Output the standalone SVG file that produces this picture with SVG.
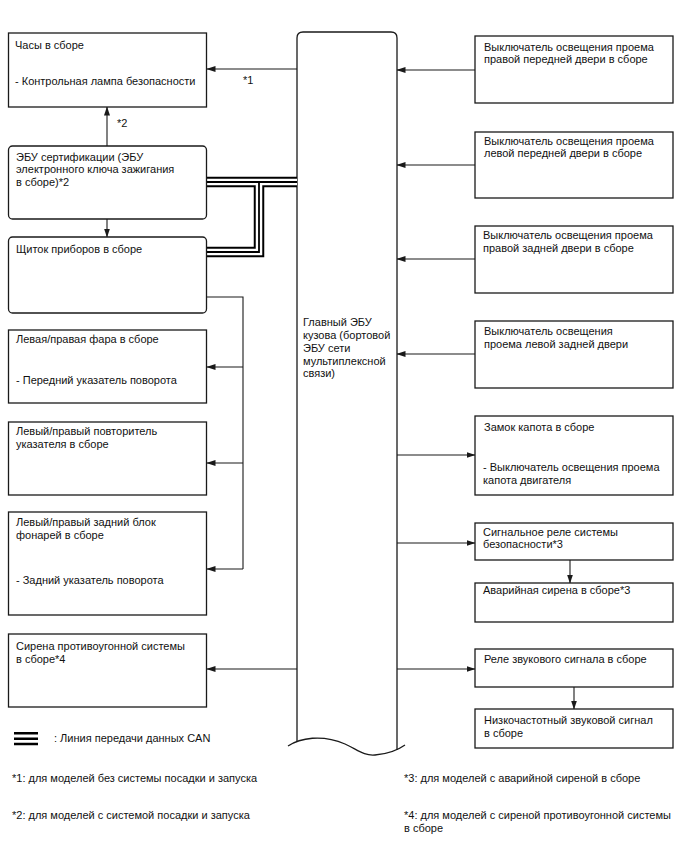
<svg xmlns="http://www.w3.org/2000/svg" width="688" height="852" viewBox="0 0 688 852">
<defs>
<style>
.b{fill:#fff;stroke:#1a1a1a;stroke-width:1.3}
.t{font-family:"Liberation Sans",Arial,sans-serif;font-size:11px;fill:#111}
.c{fill:none;stroke:#1a1a1a;stroke-width:1.1}
.a{fill:none;stroke:#1a1a1a;stroke-width:1.1;marker-end:url(#ah)}
.can1{fill:none;stroke:#000;stroke-width:10.5}
.can2{fill:none;stroke:#fff;stroke-width:6.5}
.can3{fill:none;stroke:#000;stroke-width:1.8}
</style>
<marker id="ah" markerUnits="userSpaceOnUse" markerWidth="9" markerHeight="6" refX="8.5" refY="3" orient="auto">
<path d="M0,0 L9,3 L0,6 z" fill="#1a1a1a"/>
</marker>
</defs>
<rect width="688" height="852" fill="#fff"/>

<g id="main-ecu">
<path class="b" d="M297,741 V38 Q297,32 303,32 H391 Q397,32 397,38 V750" fill="#fff"/>
<path class="c" d="M288,746 C300,738 322,734 345,744 C358,750 364,756 375,755 C388,754 398,750 405,745" style="stroke-width:1.3"/>
<text class="t" x="303" y="326">Главный ЭБУ</text>
<text class="t" x="303" y="339">кузова (бортовой</text>
<text class="t" x="303" y="351.5">ЭБУ сети</text>
<text class="t" x="303" y="364.5">мультиплексной</text>
<text class="t" x="303" y="377">связи)</text>
</g>

<g id="connectors">
<path class="can1" d="M207,182 H297 M259,182 V252 H207"/>
<path class="can2" d="M207,182 H297 M259,182 V252 H207"/>
<path class="can3" d="M207,182 H297 M259,182 V252 H207"/>
<path class="a" d="M297,69 H207"/>
<path class="a" d="M107,146 V107"/>
<path class="a" d="M107,219 V237"/>
<path class="c" d="M207,297 H243 V569"/>
<path class="a" d="M243,367 H207"/>
<path class="a" d="M243,463 H207"/>
<path class="a" d="M243,569 H207"/>
<path class="a" d="M297,669 H207"/>
<path class="a" d="M475,70 H397"/>
<path class="a" d="M475,165 H397"/>
<path class="a" d="M475,259 H397"/>
<path class="a" d="M475,354 H397"/>
<path class="a" d="M397,455 H475"/>
<path class="a" d="M397,543 H475"/>
<path class="a" d="M570,560 V583"/>
<path class="a" d="M397,669 H475"/>
<path class="a" d="M574,687 V709"/>
<text class="t" x="243" y="84">*1</text>
<text class="t" x="117" y="127">*2</text>
</g>

<g id="clock">
<rect class="b" x="8.5" y="33" width="198" height="74"/>
<text class="t" x="15" y="48.5">Часы в сборе</text>
<text class="t" x="15" y="85">- Контрольная лампа безопасности</text>
</g>

<g id="cert-ecu">
<rect class="b" x="8.5" y="146" width="198" height="73" rx="4"/>
<text class="t" x="16" y="160.5">ЭБУ сертификации (ЭБУ</text>
<text class="t" x="16" y="173.2">электронного ключа зажигания</text>
<text class="t" x="16" y="186">в сборе)*2</text>
</g>

<g id="meter">
<rect class="b" x="8.5" y="237" width="198" height="76" rx="4"/>
<text class="t" x="16" y="253">Щиток приборов в сборе</text>
</g>

<g id="headlamp">
<rect class="b" x="8.5" y="330" width="198" height="73"/>
<text class="t" x="16" y="343">Левая/правая фара в сборе</text>
<text class="t" x="16" y="384">- Передний указатель поворота</text>
</g>

<g id="side-repeater">
<rect class="b" x="8.5" y="422" width="198" height="73"/>
<text class="t" x="16" y="434.7">Левый/правый повторитель</text>
<text class="t" x="16" y="447.5">указателя в сборе</text>
</g>

<g id="rear-lamp">
<rect class="b" x="8.5" y="512" width="198" height="103"/>
<text class="t" x="16" y="526.3">Левый/правый задний блок</text>
<text class="t" x="16" y="539">фонарей в сборе</text>
<text class="t" x="16" y="584">- Задний указатель поворота</text>
</g>

<g id="theft-siren">
<rect class="b" x="8.5" y="634" width="198" height="73"/>
<text class="t" x="16" y="649.7">Сирена противоугонной системы</text>
<text class="t" x="16" y="662.5">в сборе*4</text>
</g>

<g id="rf-door">
<rect class="b" x="475" y="36" width="198" height="67"/>
<text class="t" x="484" y="50.7">Выключатель освещения проема</text>
<text class="t" x="484" y="63.4">правой передней двери в сборе</text>
</g>

<g id="lf-door">
<rect class="b" x="475" y="132" width="198" height="66"/>
<text class="t" x="484" y="144.7">Выключатель освещения проема</text>
<text class="t" x="484" y="157.4">левой передней двери в сборе</text>
</g>

<g id="rr-door">
<rect class="b" x="475" y="226" width="198" height="67"/>
<text class="t" x="483" y="239">Выключатель освещения проема</text>
<text class="t" x="483" y="251.7">правой задней двери в сборе</text>
</g>

<g id="lr-door">
<rect class="b" x="475" y="321" width="198" height="67"/>
<text class="t" x="484" y="335.3">Выключатель освещения</text>
<text class="t" x="484" y="348">проема левой задней двери</text>
</g>

<g id="hood-lock">
<rect class="b" x="475" y="416" width="198" height="79"/>
<text class="t" x="484" y="430.7">Замок капота в сборе</text>
<text class="t" x="483" y="471.3">- Выключатель освещения проема</text>
<text class="t" x="483" y="484">капота двигателя</text>
</g>

<g id="security-relay">
<rect class="b" x="475" y="523" width="198" height="37"/>
<text class="t" x="483" y="535.7">Сигнальное реле системы</text>
<text class="t" x="483" y="548.4">безопасности*3</text>
</g>

<g id="alarm-siren">
<rect class="b" x="475" y="583" width="198" height="39"/>
<text class="t" x="483" y="594">Аварийная сирена в сборе*3</text>
</g>

<g id="horn-relay">
<rect class="b" x="475" y="649" width="198" height="38"/>
<text class="t" x="484" y="663">Реле звукового сигнала в сборе</text>
</g>

<g id="low-horn">
<rect class="b" x="475" y="709" width="198" height="39"/>
<text class="t" x="484" y="724">Низкочастотный звуковой сигнал</text>
<text class="t" x="484" y="736.7">в сборе</text>
</g>

<g id="legend">
<path d="M14,733.3 H38 M14,738.7 H38 M14,744 H38" stroke="#000" stroke-width="2.4" fill="none"/>
<text class="t" x="54" y="742">: Линия передачи данных CAN</text>
<text class="t" x="12" y="782">*1: для моделей без системы посадки и запуска</text>
<text class="t" x="12" y="819">*2: для моделей с системой посадки и запуска</text>
<text class="t" x="404" y="782">*3: для моделей с аварийной сиреной в сборе</text>
<text class="t" x="404" y="819">*4: для моделей с сиреной противоугонной системы</text>
<text class="t" x="404" y="832">в сборе</text>
</g>
</svg>
